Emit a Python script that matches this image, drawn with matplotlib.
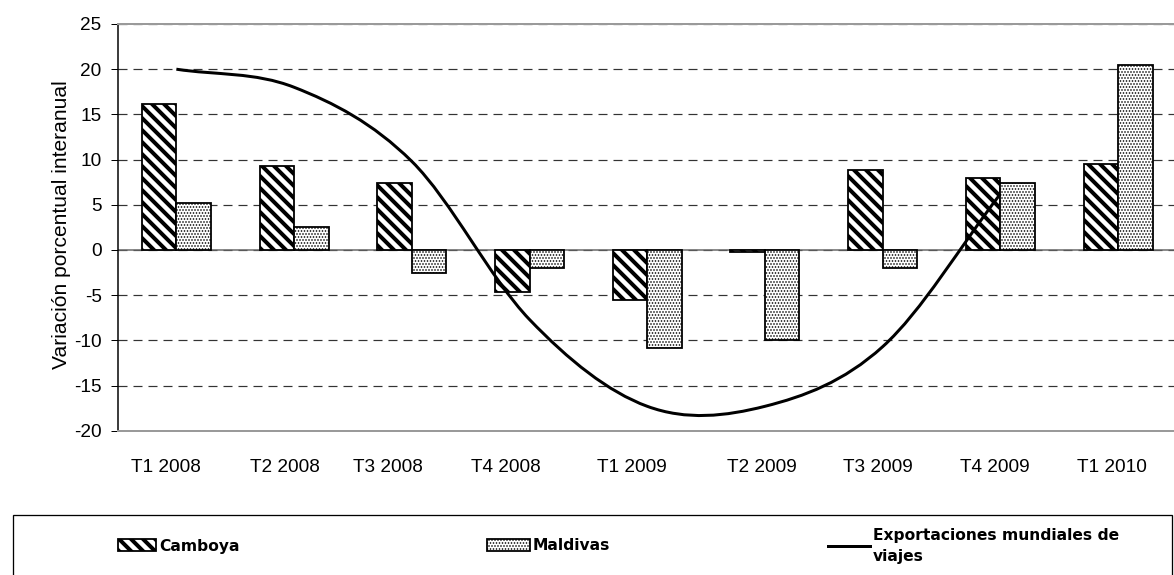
import numpy as np
import matplotlib
matplotlib.use("Agg")
import matplotlib.pyplot as plt
from matplotlib.path import Path
from matplotlib.patches import PathPatch, Rectangle
from matplotlib.lines import Line2D

# datos (variación porcentual interanual)
trimestres = ["T1 2008", "T2 2008", "T3 2008", "T4 2008", "T1 2009",
              "T2 2009", "T3 2009", "T4 2009", "T1 2010"]
camboya = [16.2, 9.3, 7.4, -4.6, -5.5, -0.2, 8.8, 8.0, 9.5]
maldivas = [5.2, 2.5, -2.6, -2.0, -10.8, -10.0, -2.0, 7.4, 20.5]
exportaciones = [20.0, 18.0, 9.8, -7.7, -17.3, -17.3, -10.7, 6.2]  # sin T1 2010

# desplazamiento de las etiquetas del eje x (como en el original)
label_nudge = [-0.09, -0.08, -0.20, -0.20, -0.13, -0.03, -0.045, -0.05, -0.05]

DPI = 144
W, H = 1174, 575


def px(v):
    # pixeles -> puntos
    return v * 72 / DPI


plt.rcParams['font.family'] = ['Liberation Sans', 'DejaVu Sans']
plt.rcParams['lines.scale_dashes'] = False
plt.rcParams['axes.unicode_minus'] = False

fig = plt.figure(figsize=(W / DPI, H / DPI), dpi=DPI)
ax = fig.add_axes([117.5 / W, 1 - 430.7 / H, (1177 - 117.5) / W, (430.7 - 24) / H])

x = np.arange(len(trimestres))
bw = 0.293
hatch_lw = {'camboya': px(4), 'maldivas': px(1)}

with plt.rc_context({'hatch.linewidth': hatch_lw['camboya']}):
    b1 = ax.bar(x - bw / 2, camboya, bw, facecolor='white', edgecolor='black',
                hatch='\\\\\\\\', linewidth=px(1.8), zorder=3)
    for p in b1:
        if hasattr(p, 'set_hatch_linewidth'):
            p.set_hatch_linewidth(hatch_lw['camboya'])
with plt.rc_context({'hatch.linewidth': hatch_lw['maldivas']}):
    b2 = ax.bar(x + bw / 2, maldivas, bw, facecolor='white', edgecolor='black',
                hatch='........', linewidth=px(1.8), zorder=3)
    for p in b2:
        if hasattr(p, 'set_hatch_linewidth'):
            p.set_hatch_linewidth(hatch_lw['maldivas'])

# línea suavizada (curva de Bezier como en Excel)
ex = np.array(exportaciones)
n = len(ex)
xs = x[:n].astype(float)
slope = np.empty(n)
slope[1:-1] = (ex[2:] - ex[:-2]) / 2
slope[0] = ex[1] - ex[0]
slope[-1] = ex[-1] - ex[-2]
verts = [(xs[0], ex[0])]
codes = [Path.MOVETO]
for i in range(n - 1):
    verts += [(xs[i] + 1 / 3, ex[i] + slope[i] / 3),
              (xs[i + 1] - 1 / 3, ex[i + 1] - slope[i + 1] / 3),
              (xs[i + 1], ex[i + 1])]
    codes += [Path.CURVE4] * 3
ax.add_patch(PathPatch(Path(verts, codes), facecolor='none', edgecolor='black',
                       lw=px(3), zorder=4, capstyle='butt'))
linea = Line2D([], [], color='black', lw=px(3))

ax.set_xlim(-0.5, 8.5)
ax.set_ylim(-20, 25)
ax.set_yticks(range(-20, 26, 5))
ax.set_xticks(x + np.array(label_nudge), trimestres)
ax.tick_params(axis='y', direction='out', length=px(7), width=px(1),
               labelsize=px(19), pad=px(9))
ax.tick_params(axis='x', length=0, labelsize=px(19), pad=px(28))

ax.set_axisbelow(True)
ax.grid(axis='y', color='#333333', linewidth=px(1.2), linestyle=(0, (px(9), px(6))))
ax.axhline(0, color='#666666', lw=px(1.5), zorder=2)

ax.spines['left'].set_color('black')
ax.spines['left'].set_linewidth(px(1.5))
for s in ['top', 'bottom']:
    ax.spines[s].set_color('#9a9a9a')
    ax.spines[s].set_linewidth(px(2))
ax.spines['right'].set_visible(False)

fig.text(62 / W, 1 - 225 / H, 'Variación porcentual interanual', rotation=90,
         ha='center', va='center', fontsize=px(21))

# leyenda
fig.add_artist(Rectangle((13 / W, -0.1), (1172 - 13) / W, (1 - 515 / H) + 0.1,
                         transform=fig.transFigure, fill=False,
                         edgecolor='black', lw=px(1.3)))
leg_font = dict(family='DejaVu Sans', weight='bold', size=px(15.5))
items = [(b1, 'Camboya', 118, 38, hatch_lw['camboya']),
         (b2, 'Maldivas', 487, 43, hatch_lw['maldivas']),
         (linea, 'Exportaciones mundiales de\nviajes', 828, 42, px(1))]
for handle, text, left, hl, hlw in items:
    with plt.rc_context({'hatch.linewidth': hlw}):
        lg = fig.legend([handle], [text], loc='center left',
                        bbox_to_anchor=(left / W, 1 - 546 / H), frameon=False,
                        prop=leg_font, borderpad=0, borderaxespad=0,
                        handlelength=hl / 15.5, handleheight=12 / 15.5,
                        handletextpad=0.2)
    for t in lg.get_texts():
        t.set_linespacing(1.45)

fig.savefig('out.png', dpi=DPI)
